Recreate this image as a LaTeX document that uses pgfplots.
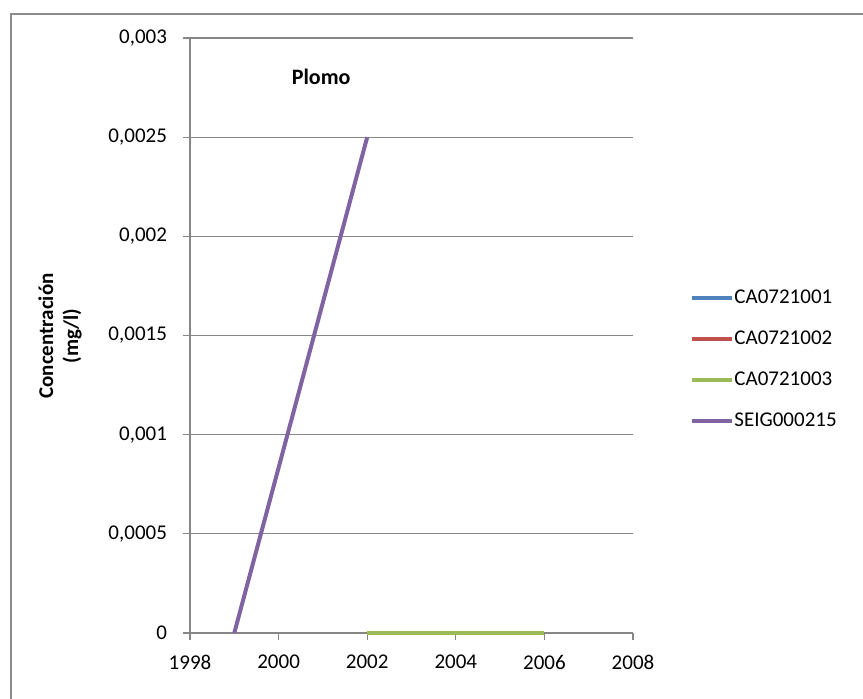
\documentclass[border=0pt]{standalone}
\usepackage{fontspec}
\setmainfont{Carlito}
\usepackage{pgfplots}
\pgfplotsset{compat=1.18}
\definecolor{xlblue}{HTML}{4F81BD}
\definecolor{xlred}{HTML}{C0504D}
\definecolor{xlgreen}{HTML}{9BBB59}
\definecolor{xlpurple}{HTML}{8064A2}
\definecolor{gridgray}{HTML}{868686}
\definecolor{framegray}{HTML}{8C8C8C}
\begin{document}
\begin{tikzpicture}[font=\fontsize{10.5}{12.6}\selectfont]
\path[use as bounding box] (0,0) rectangle (431.5pt,349.5pt);
\draw[framegray, line width=0.9pt] (5.5pt,-2pt) -- (5.5pt,342.5pt) -- (433pt,342.5pt);
\begin{axis}[
  at={(95pt,33pt)}, anchor=south west,
  width=221.5pt, height=297.5pt, scale only axis,
  xmin=1998, xmax=2008, ymin=0, ymax=0.003,
  axis x line*=bottom, axis y line*=left,
  axis line style={gridgray, line width=0.6pt},
  tick align=outside, major tick length=3.5pt,
  every tick/.style={gridgray, line width=0.6pt},
  xtick={1998,2000,2002,2004,2006,2008},
  xticklabels={1998,2000,2002,2004,2006,2008},
  ytick={0,0.0005,0.001,0.0015,0.002,0.0025,0.003},
  yticklabels={0,{0,0005},{0,001},{0,0015},{0,002},{0,0025},{0,003}},
  scaled y ticks=false,
  ymajorgrids, grid style={gridgray, line width=0.6pt},
  every tick label/.append style={font=\fontsize{10.5}{12.6}\selectfont, text=black},
  yticklabel style={xshift=-4.5pt},
  xticklabel style={yshift=-4pt},
  legend cell align=left,
  legend style={draw=none, fill=none, at={(1.1287,0.46)}, anchor=west,
    inner sep=0pt, row sep=11pt,
    nodes={inner sep=0pt, text height=7.5pt, text depth=2pt, font=\fontsize{10.5}{12.6}\selectfont},
    /tikz/every even column/.append style={column sep=6.5pt}},
  legend image code/.code={\draw[#1] (0pt,0pt) -- (20pt,0pt);},
  clip=false,
]
\addplot[xlblue, line width=1.75pt] coordinates {(2002,0) (2004,0) (2006,0)};
\addlegendentry{CA0721001}
\addplot[xlred, line width=1.75pt] coordinates {(2002,0) (2004,0) (2006,0)};
\addlegendentry{CA0721002}
\addplot[xlgreen, line width=1.75pt] coordinates {(2002,0) (2004,0) (2006,0)};
\addlegendentry{CA0721003}
\addplot[xlpurple, line width=2pt] coordinates {(1999,0) (2002,0.0025)};
\addlegendentry{SEIG000215}
\node[font=\fontsize{11}{12.6}\selectfont\bfseries] at (rel axis cs:0.296,0.934) {Plomo};
\end{axis}
\node[rotate=90, align=center, font=\fontsize{10.5}{11}\selectfont\bfseries] at (30pt,181.5pt) {Concentración\\[1.5pt](mg/l)};
\end{tikzpicture}
\end{document}
